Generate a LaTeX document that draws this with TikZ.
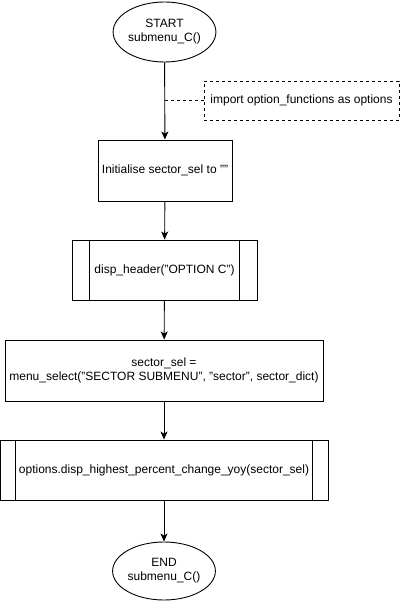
\documentclass[tikz,border=0pt]{standalone}
\usepackage{fontspec}
\setmainfont{Liberation Sans}
\usetikzlibrary{shapes,arrows.meta,calc,positioning}

\begin{document}
\begin{tikzpicture}[x=1pt,y=-1pt,line width=0.9pt,
	terminal/.style={ellipse,draw,minimum width=91pt,minimum height=60pt,inner sep=0pt,align=center},
	process/.style={rectangle,draw,minimum height=61pt,inner sep=2pt,align=center},
	note/.style={rectangle,draw,dashed,minimum width=195pt,minimum height=39pt,inner sep=2pt},
	arr/.style={-{Stealth[length=8pt,width=7pt,inset=2pt]}},
	font=\fontsize{12}{14}\selectfont]
	\useasboundingbox (0,0) rectangle (400,601);

	\node[terminal] at (164.5,32) (start) {START\\submenu\_C()};
	\node[note] at (301.5,100.5) (imp) {import option\_functions as options};
	\node[process,minimum width=134pt] at (165,170.5) (init) {Initialise sector\_sel to ""};
	\node[process,minimum width=185pt,minimum height=60pt] at (164.5,270) (hdr) {disp\_header("OPTION C")};
	\node[process,minimum width=318pt] at (164,370.5) (menu) {sector\_sel =\\menu\_select("SECTOR SUBMENU", "sector", sector\_dict)};
	\node[process,minimum width=328pt,minimum height=60pt] at (164,470) (disp) {options.disp\_highest\_percent\_change\_yoy(sector\_sel)};
	\node[terminal,minimum width=90pt,minimum height=58pt] at (164,571) (end) {END\\submenu\_C()};

	% side bars of the predefined process boxes
	\foreach \n/\w in {hdr/18,disp/16} {
		\draw ([xshift=\w pt]\n.north west) -- ([xshift=\w pt]\n.south west);
		\draw ([xshift=-\w pt]\n.north east) -- ([xshift=-\w pt]\n.south east);
	}

	\draw[arr] (start) -- (init);
	\draw[dashed] (imp.west) -- (imp.west -| start.south);
	\draw[arr] (init) -- (hdr);
	\draw[arr] (hdr) -- (menu);
	\draw[arr] (menu) -- (disp);
	\draw[arr] (disp) -- (end);
\end{tikzpicture}
\end{document}
